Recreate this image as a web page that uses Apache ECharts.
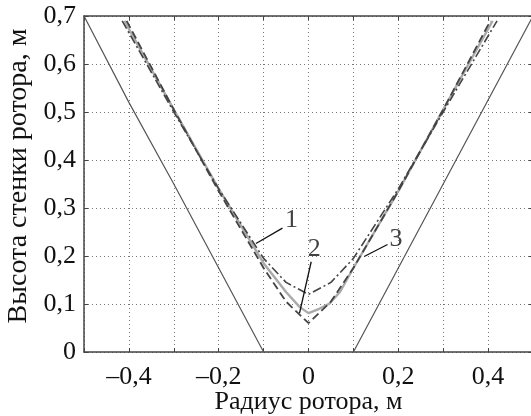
<!DOCTYPE html>
<html><head><meta charset="utf-8">
<script src="https://cdn.jsdelivr.net/npm/echarts@6/dist/echarts.min.js"></script>
<style>html,body{margin:0;padding:0;background:#fff}#c{width:531px;height:416px}</style>
</head><body><div id="c"></div>
<script>
// Outer straight limits (thin solid)
const outerLeft = [[-0.5, 0.7], [-0.4, 0.52], [-0.3, 0.35], [-0.2, 0.175], [-0.1, 0]];
const outerRight = [[0.1, 0], [0.2, 0.175], [0.3, 0.35], [0.4, 0.525], [0.5, 0.7]];
// Curve 1: dash-dot
const curve1 = [[-0.415, 0.69], [-0.3, 0.5], [-0.2, 0.34], [-0.1, 0.195], [-0.05, 0.145], [0, 0.12], [0.05, 0.145], [0.1, 0.195], [0.2, 0.34], [0.3, 0.5], [0.42, 0.69]];
// Curve 2: light grey solid
const curve2 = [[-0.41, 0.69], [-0.3, 0.505], [-0.2, 0.34], [-0.1, 0.185], [-0.05, 0.125], [-0.02, 0.094], [0, 0.081], [0.024, 0.09], [0.047, 0.101], [0.07, 0.125], [0.1, 0.175], [0.2, 0.335], [0.3, 0.505], [0.41, 0.69]];
// Curve 3: dashed
const curve3 = [[-0.405, 0.69], [-0.3, 0.505], [-0.2, 0.335], [-0.1, 0.175], [-0.05, 0.105], [0, 0.06], [0.05, 0.105], [0.1, 0.175], [0.2, 0.335], [0.3, 0.505], [0.405, 0.69]];
// Callout labels and leader lines
const labelNames = ['1', '2', '3'];
const labelPos = [[-0.038, 0.275], [0.013, 0.214], [0.195, 0.235]];
const leader1 = [[-0.058, 0.258], [-0.117, 0.226]];
const leader2 = [[0.006, 0.188], [-0.02, 0.081]];
const leader3 = [[0.176, 0.224], [0.124, 0.199]];
const xTicks = [-0.4, -0.2, 0, 0.2, 0.4];

const font = 'Liberation Serif';
const fmt = v => {
  const r = Math.round(v * 10) / 10;
  if (r === 0) return '0';
  return (r < 0 ? '\u2013' : '') + Math.abs(r).toFixed(1).replace('.', ',');
};
const gridLine = {show: true, lineStyle: {color: '#777', type: [1, 3], width: 1}};
const axisLineStyle = {show: true, onZero: false, lineStyle: {color: '#444', width: 1.5}};
const tickIn = {show: true, inside: true, length: 4, lineStyle: {color: '#444'}};

const chart = echarts.init(document.getElementById('c'));
const lineS = (data, color, width, type) => ({
  type: 'line', data, symbol: 'none', xAxisIndex: 0, yAxisIndex: 0, silent: true,
  lineStyle: {color, width, type}, z: 3
});
chart.setOption({
  animation: false,
  grid: {left: 84, top: 16, width: 449, height: 336, containLabel: false, outerBoundsMode: 'none'},
  xAxis: [{
    type: 'value', min: -0.5, max: 0.5, interval: 0.1, position: 'bottom',
    axisLine: axisLineStyle, axisTick: tickIn, splitLine: gridLine,
    axisLabel: {fontFamily: font, fontSize: 26, color: '#111', margin: 12,
      formatter: v => xTicks.some(t => Math.abs(t - v) < 1e-6) ? fmt(v) : ''},
    name: 'Радиус ротора, м', nameLocation: 'middle', nameGap: 37, nameMoveOverlap: false,
    nameTextStyle: {fontFamily: font, fontSize: 26, color: '#111'}
  }, {
    type: 'value', min: -0.5, max: 0.5, interval: 0.1, position: 'top',
    axisLine: axisLineStyle, axisTick: tickIn, splitLine: {show: false},
    axisLabel: {show: false}
  }],
  yAxis: [{
    type: 'value', min: 0, max: 0.7, interval: 0.1, position: 'left',
    axisLine: axisLineStyle, axisTick: tickIn, splitLine: gridLine,
    axisLabel: {fontFamily: font, fontSize: 26, color: '#111', margin: 8, formatter: fmt},
    name: 'Высота стенки ротора, м', nameLocation: 'middle', nameGap: 51, nameMoveOverlap: false,
    nameTextStyle: {fontFamily: font, fontSize: 28, color: '#111', padding: [0, 0, 0, 16]}
  }, {
    type: 'value', min: 0, max: 0.7, interval: 0.1, position: 'right',
    axisLine: axisLineStyle, axisTick: tickIn, splitLine: {show: false},
    axisLabel: {show: false}
  }],
  series: [
    lineS(outerLeft, '#555', 1.2, 'solid'),
    lineS(outerRight, '#555', 1.2, 'solid'),
    lineS(curve2, '#aaa', 2.4, 'solid'),
    lineS(curve1, '#444', 1.6, [9, 3, 2, 3]),
    lineS(curve3, '#444', 1.8, [8, 4]),
    lineS(leader1, '#111', 1.3, 'solid'),
    lineS(leader2, '#111', 1.3, 'solid'),
    lineS(leader3, '#111', 1.3, 'solid'),
    {
      type: 'scatter', symbolSize: 0, silent: true, z: 5,
      data: labelPos.map((p, i) => ({value: p, name: labelNames[i]})),
      label: {show: true, position: 'inside', formatter: p => p.name,
        fontFamily: font, fontSize: 26, color: '#111'}
    }
  ]
});
</script></body></html>
